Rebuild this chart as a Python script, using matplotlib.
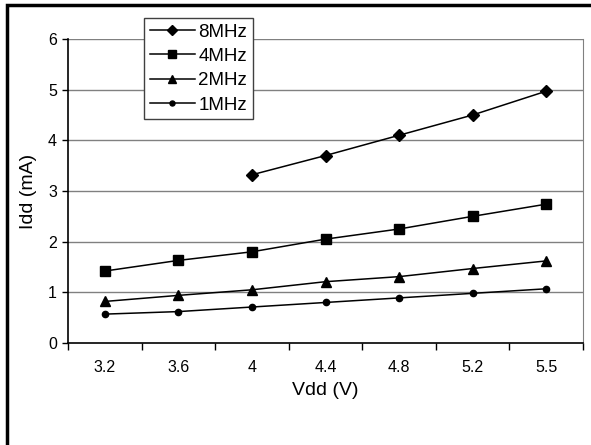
import numpy as np
import matplotlib
matplotlib.use("Agg")
import matplotlib.pyplot as plt
from matplotlib.patches import Rectangle

plt.rcParams['font.family'] = ['Liberation Sans', 'DejaVu Sans']

categories = ["3.2", "3.6", "4", "4.4", "4.8", "5.2", "5.5"]
series_names = ["8MHz", "4MHz", "2MHz", "1MHz"]
idd_8mhz = [np.nan, np.nan, 3.32, 3.70, 4.10, 4.50, 4.97]
idd_4mhz = [1.42, 1.63, 1.80, 2.05, 2.25, 2.50, 2.74]
idd_2mhz = [0.82, 0.94, 1.05, 1.21, 1.31, 1.47, 1.62]
idd_1mhz = [0.57, 0.62, 0.71, 0.80, 0.89, 0.98, 1.07]
y_ticks = [0, 1, 2, 3, 4, 5, 6]

W, H = 591, 445
fig = plt.figure(figsize=(W / 100, H / 100), dpi=100)
ax = fig.add_axes([68 / W, 1 - 343 / H, (583 - 68) / W, (343 - 39) / H])

x = np.arange(len(categories))
markers = ['D', 's', '^', 'o']
msizes = [6.5, 7, 7, 4.5]
for name, vals, m, ms in zip(series_names, [idd_8mhz, idd_4mhz, idd_2mhz, idd_1mhz], markers, msizes):
    ax.plot(x, vals, color='black', lw=1.1, marker=m, markersize=ms,
            markerfacecolor='black', markeredgecolor='black', label=name, zorder=3)

ax.set_xlim(-0.5, len(categories) - 0.5)
ax.set_ylim(0, 6)
ax.set_yticks(y_ticks)
ax.set_yticklabels([str(v) for v in y_ticks], fontsize=11.5)
ax.set_xticks(x)
ax.set_xticklabels(categories, fontsize=11.5)
ax.tick_params(axis='x', length=0, pad=12)
ax.set_xticks(np.arange(-0.5, len(categories), 1), minor=True)
ax.tick_params(axis='x', which='minor', length=5, width=1, direction='out', color='black')
ax.tick_params(axis='y', length=4, width=1, direction='out', pad=4)

for v in y_ticks[1:]:
    ax.axhline(v, color='#808080', lw=1, zorder=1)

ax.spines['top'].set_visible(False)
ax.spines['right'].set_color('#808080')
ax.spines['left'].set_color('black')
ax.spines['bottom'].set_color('black')
ax.spines['left'].set_linewidth(1.2)
ax.spines['bottom'].set_linewidth(1.2)

ax.set_ylabel("Idd (mA)", fontsize=14, labelpad=8)
ax.set_xlabel("Vdd (V)", fontsize=14, labelpad=5)

leg = ax.legend(loc='upper left', bbox_to_anchor=((144 - 68) / (583 - 68), (343 - 18) / (343 - 39)),
                fontsize=13.5, frameon=True, fancybox=False, borderpad=0.3, labelspacing=0.38,
                handlelength=2.4, handletextpad=0.2, borderaxespad=0, markerscale=0.8)
leg.get_frame().set_edgecolor('#404040')
leg.get_frame().set_linewidth(1)
leg.get_frame().set_alpha(1)

# outer chart frame
fig.patches.append(Rectangle((7 / W, -0.1), 1.2, 1.1 - 5 / H, transform=fig.transFigure,
                             fill=False, edgecolor='black', lw=2.5))

fig.savefig("out.png", dpi=100)
